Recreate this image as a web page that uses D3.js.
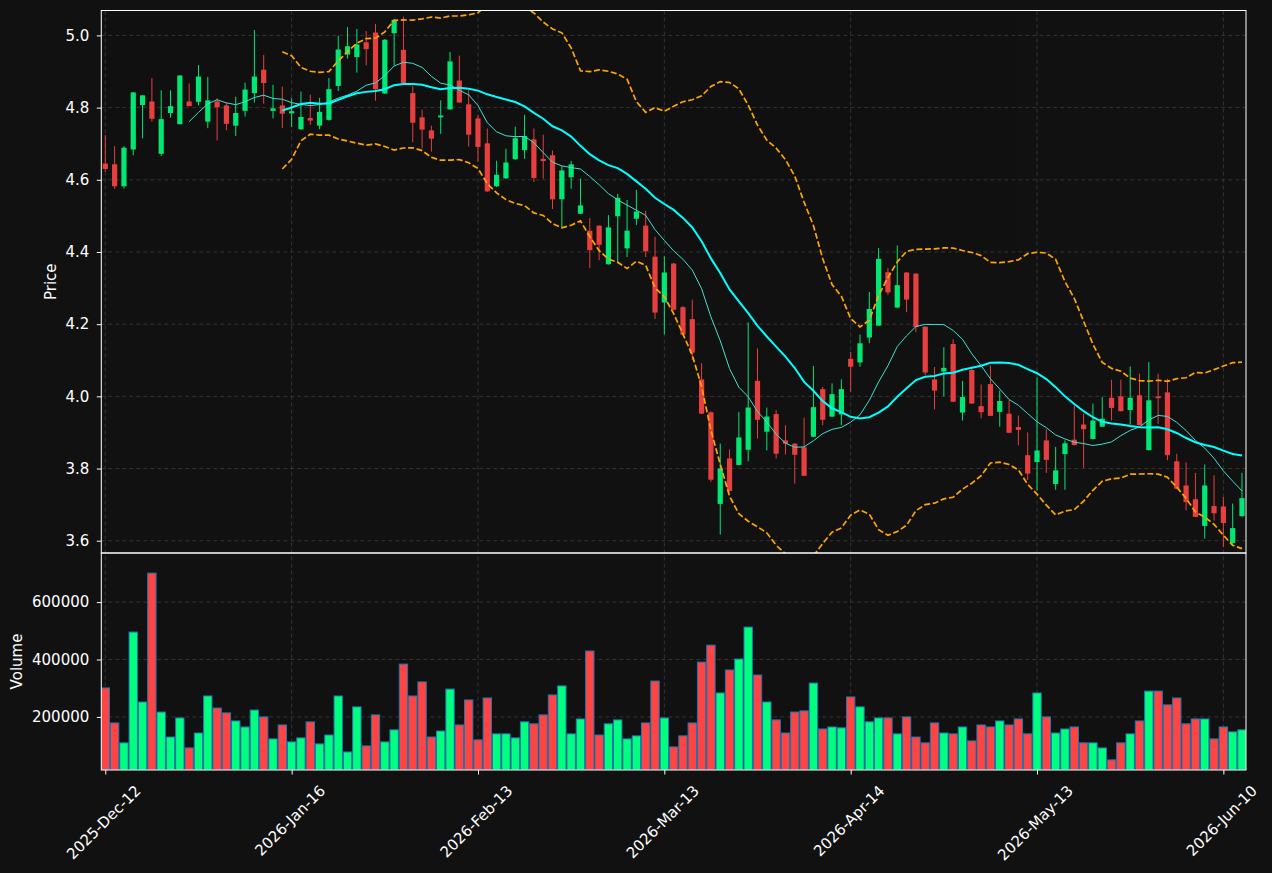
<!DOCTYPE html>
<html>
<head>
<meta charset="utf-8">
<script src="https://cdn.jsdelivr.net/npm/d3@7"></script>
<style>
  html, body { margin: 0; padding: 0; background: #111111; }
  svg { display: block; font-family: 'DejaVu Sans', sans-serif; }
</style>
</head>
<body>
<svg width="1272" height="873"></svg>
<script>
(function(d3) {
  'use strict';

  // OHLC, one entry per trading day
  const opens = [
    4.645, 4.643, 4.582, 4.684, 4.807, 4.817, 4.672, 4.785, 4.754, 4.817,
    4.816, 4.761, 4.817, 4.806, 4.750, 4.791, 4.840, 4.905, 4.791, 4.806,
    4.784, 4.740, 4.771, 4.750, 4.766, 4.860, 4.947, 4.940, 4.981, 5.008,
    4.839, 5.006, 4.960, 4.840, 4.773, 4.737, 4.773, 4.795, 4.875, 4.809,
    4.770, 4.701, 4.582, 4.604, 4.657, 4.682, 4.712, 4.658, 4.668, 4.546,
    4.607, 4.506, 4.459, 4.473, 4.366, 4.499, 4.410, 4.492, 4.473, 4.387,
    4.260, 4.368, 4.247, 4.214, 4.047, 3.956, 3.702, 3.828, 3.810, 3.852,
    4.043, 3.902, 3.951, 3.878, 3.869, 3.859, 3.888, 4.020, 3.944, 3.950,
    4.104, 4.094, 4.163, 4.196, 4.344, 4.246, 4.343, 4.340, 4.193, 4.047,
    4.069, 4.145, 3.955, 4.073, 3.973, 4.034, 3.957, 3.952, 3.915, 3.837,
    3.818, 3.878, 3.757, 3.840, 3.880, 3.922, 3.882, 3.916, 3.996, 4.000,
    3.962, 4.003, 3.851, 4.000, 4.011, 3.820, 3.753, 3.715, 3.641, 3.696,
    3.695, 3.594, 3.668
  ];
  const highs = [
    4.724, 4.693, 4.693, 4.843, 4.834, 4.882, 4.848, 4.848, 4.889, 4.867,
    4.918, 4.885, 4.826, 4.814, 4.830, 4.869, 5.015, 4.946, 4.863, 4.858,
    4.826, 4.844, 4.836, 4.827, 4.882, 4.999, 5.023, 5.018, 5.012, 5.032,
    4.990, 5.046, 5.052, 4.861, 4.795, 4.750, 4.820, 4.954, 4.944, 4.848,
    4.780, 4.742, 4.653, 4.686, 4.747, 4.780, 4.742, 4.725, 4.681, 4.638,
    4.652, 4.603, 4.494, 4.474, 4.502, 4.561, 4.544, 4.572, 4.514, 4.442,
    4.388, 4.370, 4.250, 4.268, 4.092, 3.958, 3.869, 3.853, 3.957, 4.205,
    4.133, 3.969, 3.962, 3.920, 3.870, 3.941, 4.084, 4.026, 4.036, 4.047,
    4.123, 4.171, 4.289, 4.411, 4.356, 4.418, 4.345, 4.341, 4.194, 4.081,
    4.136, 4.158, 4.043, 4.082, 4.033, 4.086, 4.016, 3.990, 3.947, 3.900,
    4.052, 3.909, 3.860, 3.878, 3.975, 3.952, 3.980, 3.998, 4.046, 4.046,
    4.083, 4.063, 4.095, 4.063, 4.049, 3.841, 3.817, 3.788, 3.811, 3.781,
    3.721, 3.703, 3.788
  ];
  const lows = [
    4.622, 4.575, 4.576, 4.668, 4.715, 4.761, 4.666, 4.772, 4.754, 4.804,
    4.806, 4.743, 4.709, 4.737, 4.721, 4.775, 4.814, 4.811, 4.770, 4.743,
    4.746, 4.738, 4.752, 4.740, 4.764, 4.846, 4.936, 4.897, 4.917, 4.819,
    4.838, 4.917, 4.866, 4.704, 4.687, 4.678, 4.727, 4.794, 4.813, 4.692,
    4.650, 4.566, 4.580, 4.602, 4.655, 4.658, 4.594, 4.603, 4.519, 4.467,
    4.575, 4.505, 4.355, 4.377, 4.365, 4.369, 4.386, 4.475, 4.386, 4.214,
    4.172, 4.238, 4.169, 4.101, 3.951, 3.763, 3.617, 3.736, 3.808, 3.820,
    3.883, 3.850, 3.828, 3.839, 3.758, 3.779, 3.887, 3.920, 3.943, 3.920,
    4.013, 4.082, 4.147, 4.195, 4.281, 4.245, 4.233, 4.178, 4.059, 3.964,
    4.000, 3.984, 3.933, 3.979, 3.939, 3.945, 3.916, 3.898, 3.864, 3.768,
    3.739, 3.788, 3.741, 3.741, 3.864, 3.802, 3.881, 3.915, 3.933, 3.958,
    3.922, 3.920, 3.850, 3.924, 3.823, 3.743, 3.684, 3.665, 3.606, 3.656,
    3.582, 3.590, 3.667
  ];
  const closes = [
    4.630, 4.582, 4.689, 4.842, 4.834, 4.769, 4.768, 4.804, 4.889, 4.804,
    4.886, 4.820, 4.801, 4.755, 4.785, 4.850, 4.886, 4.868, 4.798, 4.783,
    4.790, 4.774, 4.764, 4.788, 4.851, 4.961, 4.970, 4.975, 4.962, 4.851,
    4.988, 5.043, 4.867, 4.758, 4.739, 4.714, 4.778, 4.928, 4.814, 4.725,
    4.691, 4.568, 4.614, 4.648, 4.715, 4.721, 4.605, 4.652, 4.546, 4.626,
    4.643, 4.529, 4.405, 4.420, 4.468, 4.550, 4.459, 4.512, 4.402, 4.232,
    4.343, 4.240, 4.171, 4.121, 3.952, 3.769, 3.800, 3.738, 3.886, 3.969,
    3.935, 3.944, 3.841, 3.869, 3.838, 3.780, 3.970, 3.935, 4.006, 4.020,
    4.082, 4.147, 4.242, 4.381, 4.288, 4.308, 4.268, 4.192, 4.066, 4.016,
    4.079, 3.985, 3.998, 3.980, 3.956, 3.946, 3.987, 3.899, 3.907, 3.786,
    3.850, 3.824, 3.795, 3.870, 3.865, 3.909, 3.933, 3.938, 3.968, 3.959,
    3.996, 3.920, 3.989, 3.995, 3.837, 3.744, 3.707, 3.666, 3.753, 3.676,
    3.649, 3.635, 3.718
  ];
  const volumes = [
    300900, 179000, 109600, 495600, 252000, 700900, 217000, 130000, 196500, 92000,
    144000, 273000, 231000, 214000, 186000, 165000, 224000, 200000, 123500, 172000,
    113000, 127000, 182600, 106000, 137000, 273000, 78000, 235000, 99000, 207000,
    113000, 155000, 384000, 273000, 322000, 130000, 151000, 297000, 172000, 259000,
    120000, 266000, 141000, 141000, 127000, 183000, 176000, 207000, 276500, 308000,
    141000, 193000, 429600, 137000, 176000, 189600, 123500, 134000, 179000, 325000,
    196500, 95600, 134000, 179000, 391000, 450000, 283500, 363500, 401700, 513000,
    346000, 252000, 189600, 144000, 217000, 221000, 318000, 158000, 165000, 162000,
    269600, 235000, 183000, 196500, 196500, 141000, 200000, 130000, 109600, 179000,
    144000, 141000, 165000, 116500, 172000, 165000, 186000, 172000, 193000, 141000,
    283500, 200000, 144000, 158000, 165000, 109600, 109600, 92000, 50400, 109600,
    141000, 186000, 290000, 290000, 242000, 266000, 176000, 193000, 193000, 123500,
    165000, 148000, 155000
  ];

  // date labels and the candle index they sit on
  const tickIndex = [0, 20, 40, 60, 80, 100, 120];
  const tickLabels = ['2025-Dec-12', '2026-Jan-16', '2026-Feb-13', '2026-Mar-13',
    '2026-Apr-14', '2026-May-13', '2026-Jun-10'];
  const priceTicks = [3.6, 3.8, 4.0, 4.2, 4.4, 4.6, 4.8, 5.0];
  const volumeTicks = [200000, 400000, 600000];

  const upColor = '#00ff7f';
  const downColor = '#ff4444';
  const fontSize = 15;

  const svg = d3.select('svg');
  const width = +svg.attr('width');
  const height = +svg.attr('height');

  svg.append('rect').attr('width', width).attr('height', height)
      .attr('fill', '#111111');

  const left = 101.3;
  const right = 1246;
  const priceTop = 10.5;
  const priceBottom = 553;
  const volBottom = 770;

  const n = closes.length;
  const idx = d3.range(n);

  const xScale = d3.scaleLinear().domain([-0.43, n - 0.57]).range([left, right]);
  const yPrice = d3.scaleLinear().domain([3.566, 5.069]).range([priceBottom, priceTop]);
  const yVol = d3.scaleLinear()
      .domain([0.3 * d3.min(volumes), 1.1 * d3.max(volumes)])
      .range([volBottom, priceBottom]);
  const step = xScale(1) - xScale(0);

  svg.append('clipPath').attr('id', 'clipPrice')
      .append('rect').attr('x', left).attr('y', priceTop)
      .attr('width', right - left).attr('height', priceBottom - priceTop);
  svg.append('clipPath').attr('id', 'clipVol')
      .append('rect').attr('x', left).attr('y', priceBottom)
      .attr('width', right - left).attr('height', volBottom - priceBottom);

  // grid
  const gridG = svg.append('g')
      .attr('stroke', '#3d3d3d')
      .attr('stroke-width', 0.8)
      .attr('stroke-dasharray', '4,3');
  gridG.selectAll('line.v').data(tickIndex).enter().append('line')
      .attr('x1', (d) => xScale(d)).attr('x2', (d) => xScale(d))
      .attr('y1', priceTop).attr('y2', volBottom);
  gridG.selectAll('line.hp').data(priceTicks).enter().append('line')
      .attr('x1', left).attr('x2', right)
      .attr('y1', (d) => yPrice(d)).attr('y2', (d) => yPrice(d));
  gridG.selectAll('line.hv').data(volumeTicks).enter().append('line')
      .attr('x1', left).attr('x2', right)
      .attr('y1', (d) => yVol(d)).attr('y2', (d) => yVol(d));

  const isUp = (i) => closes[i] >= opens[i];

  // volume bars
  const barW = step * 0.9;
  svg.append('g').attr('clip-path', 'url(#clipVol)')
      .selectAll('rect').data(idx).enter().append('rect')
      .attr('x', (i) => xScale(i) - barW / 2)
      .attr('y', (i) => yVol(volumes[i]))
      .attr('width', barW)
      .attr('height', (i) => volBottom - yVol(volumes[i]))
      .attr('fill', (i) => isUp(i) ? upColor : downColor)
      .attr('stroke', '#1f77b4')
      .attr('stroke-width', 1);

  // candles
  const bodyW = step * 0.56;
  const candleG = svg.append('g').attr('clip-path', 'url(#clipPrice)')
      .attr('opacity', 0.9);
  candleG.selectAll('line').data(idx).enter().append('line')
      .attr('x1', (i) => xScale(i)).attr('x2', (i) => xScale(i))
      .attr('y1', (i) => yPrice(highs[i])).attr('y2', (i) => yPrice(lows[i]))
      .attr('stroke', (i) => isUp(i) ? upColor : downColor)
      .attr('stroke-width', 1);
  candleG.selectAll('rect').data(idx).enter().append('rect')
      .attr('x', (i) => xScale(i) - bodyW / 2)
      .attr('y', (i) => yPrice(Math.max(opens[i], closes[i])))
      .attr('width', bodyW)
      .attr('height', (i) => Math.max(1,
          Math.abs(yPrice(opens[i]) - yPrice(closes[i]))))
      .attr('fill', (i) => isUp(i) ? upColor : downColor);

  // moving averages and bollinger bands from the closes
  function rolling(win, fn) {
    return idx.map(function(i) {
      if (i < win - 1) return null;
      return fn(closes.slice(i - win + 1, i + 1));
    });
  }
  const ma10 = rolling(10, d3.mean);
  const ma20 = rolling(20, d3.mean);
  const sd20 = rolling(20, d3.deviation);
  const upper = idx.map((i) => ma20[i] === null ? null : ma20[i] + 2 * sd20[i]);
  const lower = idx.map((i) => ma20[i] === null ? null : ma20[i] - 2 * sd20[i]);

  const line = d3.line()
      .defined((d) => d !== null)
      .x((d, i) => xScale(i))
      .y((d) => yPrice(d));

  const linesG = svg.append('g').attr('clip-path', 'url(#clipPrice)')
      .attr('fill', 'none');
  linesG.append('path').attr('d', line(upper))
      .attr('stroke', '#ffa500').attr('stroke-width', 1.7)
      .attr('stroke-dasharray', '6,2.6');
  linesG.append('path').attr('d', line(lower))
      .attr('stroke', '#ffa500').attr('stroke-width', 1.7)
      .attr('stroke-dasharray', '6,2.6');
  linesG.append('path').attr('d', line(ma10))
      .attr('stroke', '#40e0d0').attr('stroke-width', 1);
  linesG.append('path').attr('d', line(ma20))
      .attr('stroke', '#00ffff').attr('stroke-width', 2);

  // frames
  svg.append('rect').attr('x', left).attr('y', priceTop)
      .attr('width', right - left).attr('height', priceBottom - priceTop)
      .attr('fill', 'none').attr('stroke', '#ffffff').attr('stroke-width', 1);
  svg.append('rect').attr('x', left).attr('y', priceBottom)
      .attr('width', right - left).attr('height', volBottom - priceBottom)
      .attr('fill', 'none').attr('stroke', '#ffffff').attr('stroke-width', 1);

  // axes
  function styleAxis(g) {
    g.select('.domain').remove();
    g.selectAll('line').attr('stroke', '#ffffff');
    g.selectAll('text').attr('fill', '#ffffff')
        .style('font-family', '\'DejaVu Sans\', sans-serif')
        .style('font-size', fontSize + 'px');
  }

  svg.append('g').attr('transform', `translate(${left},0)`)
      .call(d3.axisLeft(yPrice).tickValues(priceTicks)
          .tickFormat(d3.format('.1f')).tickSize(4.5).tickPadding(7.5))
      .call(styleAxis);

  svg.append('g').attr('transform', `translate(${left},0)`)
      .call(d3.axisLeft(yVol).tickValues(volumeTicks)
          .tickFormat(d3.format('d')).tickSize(4.5).tickPadding(7.5))
      .call(styleAxis);

  const xAxisG = svg.append('g').attr('transform', `translate(0,${volBottom})`)
      .call(d3.axisBottom(xScale).tickValues(tickIndex)
          .tickFormat((d, i) => tickLabels[i]).tickSize(4.5))
      .call(styleAxis);

  // rotated date labels, bounding box centred under the tick
  xAxisG.selectAll('.tick text').each(function() {
    const t = d3.select(this);
    const len = this.getComputedTextLength();
    const box = (len + fontSize * 0.78) * Math.SQRT1_2;
    t.attr('x', 0).attr('y', 0).attr('dy', null)
        .attr('text-anchor', 'middle')
        .attr('dominant-baseline', 'central')
        .attr('transform', `translate(-2,${14 + box / 2}) rotate(-45)`);
  });

  // axis titles
  svg.append('text')
      .attr('transform', `translate(51,${(priceTop + priceBottom) / 2}) rotate(-90)`)
      .attr('text-anchor', 'middle').attr('dominant-baseline', 'central')
      .attr('fill', '#ffffff').style('font-size', fontSize + 'px')
      .text('Price');
  svg.append('text')
      .attr('transform', `translate(16.5,${(priceBottom + volBottom) / 2}) rotate(-90)`)
      .attr('text-anchor', 'middle').attr('dominant-baseline', 'central')
      .attr('fill', '#ffffff').style('font-size', fontSize + 'px')
      .text('Volume');
}(d3));
</script>
</body>
</html>
